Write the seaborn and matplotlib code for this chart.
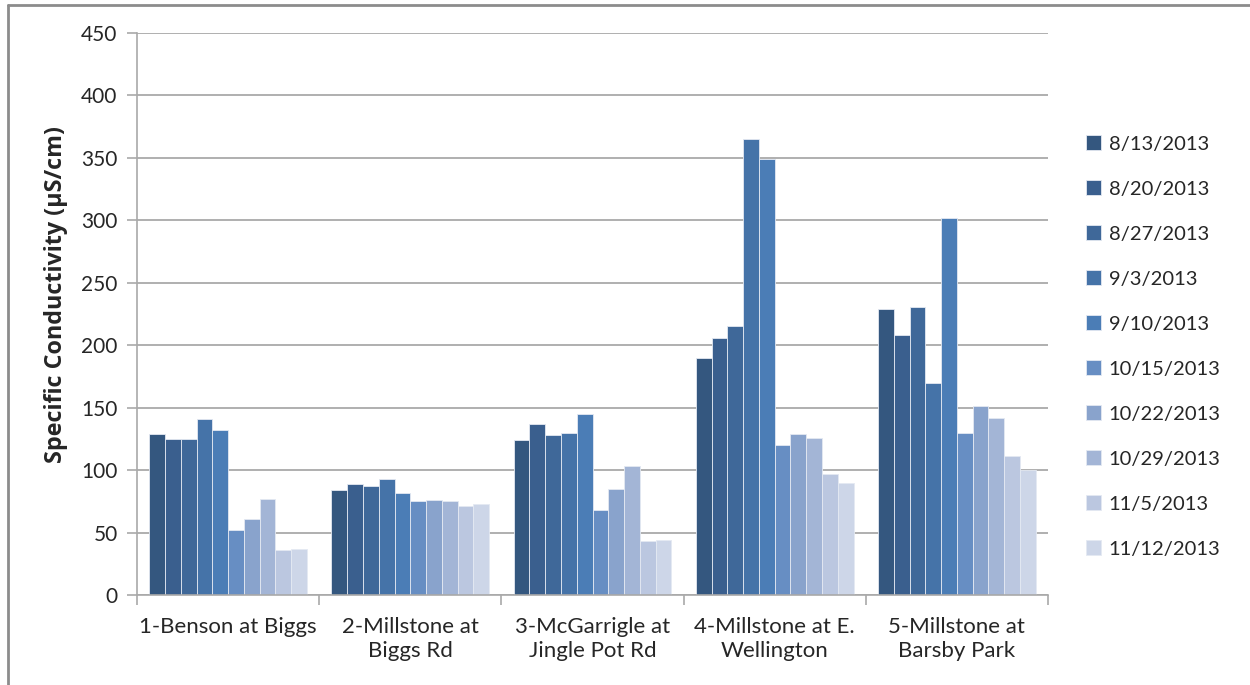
import numpy as np
import pandas as pd
import matplotlib
matplotlib.use("Agg")
import matplotlib.pyplot as plt
from matplotlib.lines import Line2D
import seaborn as sns

# ------------------------------------------
# Data
# ------------------------------------------
sites = ["1-Benson at Biggs",
         "2-Millstone at\nBiggs Rd",
         "3-McGarrigle at\nJingle Pot Rd",
         "4-Millstone at E.\nWellington",
         "5-Millstone at\nBarsby Park"]

dates = ["8/13/2013", "8/20/2013", "8/27/2013", "9/3/2013", "9/10/2013",
         "10/15/2013", "10/22/2013", "10/29/2013", "11/5/2013", "11/12/2013"]

benson_biggs = [129, 125, 125, 141, 132, 52, 61, 77, 36, 37]
millstone_biggs = [84, 89, 87, 93, 82, 75, 76, 75, 71, 73]
mcgarrigle = [124, 137, 128, 130, 145, 68, 85, 103, 43, 44]
millstone_wellington = [190, 206, 215, 365, 349, 120, 129, 126, 97, 90]
millstone_barsby = [229, 208, 231, 170, 302, 130, 151, 142, 111, 100]

colors = ["#34577f", "#3a5f8e", "#3f6899", "#4573a8", "#4b7db6",
          "#678ec3", "#89a3cc", "#a3b5d6", "#bbc7e0", "#cdd6e8"]

values = [benson_biggs, millstone_biggs, mcgarrigle,
          millstone_wellington, millstone_barsby]

rows = []
for site, vals in zip(sites, values):
    for d, v in zip(dates, vals):
        rows.append({"Site": site, "Date": d, "Conductivity": v})
df = pd.DataFrame(rows)

# ------------------------------------------
# Plot
# ------------------------------------------
sns.set_style("white")
plt.rcParams['font.family'] = ['Lato', 'DejaVu Sans']

fig = plt.figure(figsize=(12.5, 6.85), dpi=100)
ax = fig.add_axes([0.1096, 0.1314, 0.7288, 0.8204])

sns.barplot(data=df, x="Site", y="Conductivity", hue="Date",
            order=sites, hue_order=dates, palette=colors,
            width=0.865, gap=0, edgecolor="#e4e9f2", linewidth=0.6,
            saturation=1, errorbar=None, ax=ax)

ax.set_ylim(0, 450)
ax.set_xlim(-0.5, 4.5)
ax.set_yticks(np.arange(0, 451, 50))
ax.yaxis.grid(True, color="#a9a9a9", linewidth=1.3)
ax.set_axisbelow(True)

ax.set_xlabel("")
ax.set_ylabel("Specific Conductivity (µS/cm)", fontsize=16.8,
              fontweight="bold", family=["Open Sans", "DejaVu Sans"])
# label sits a little above the axis centre in the reference
ax.yaxis.set_label_coords(-0.076, 0.535)

ax.tick_params(axis="y", labelsize=15, length=7, width=1.2,
               color="#a9a9a9", left=True, pad=7)
ax.tick_params(axis="x", which="major", labelsize=16, length=0, pad=16)
for lab in ax.get_xticklabels():
    lab.set_linespacing(1.25)
ax.set_xticks(np.arange(-0.5, 5, 1), minor=True)
ax.tick_params(axis="x", which="minor", length=7, width=1.2,
               color="#a9a9a9", bottom=True)

for side in ["top", "right"]:
    ax.spines[side].set_visible(False)
for side in ["left", "bottom"]:
    ax.spines[side].set_color("#a9a9a9")
    ax.spines[side].set_linewidth(1.2)

handles, labels = ax.get_legend_handles_labels()
ax.legend(handles, labels, loc="upper left", bbox_to_anchor=(0.862, 0.814),
          bbox_transform=fig.transFigure, frameon=False, fontsize=14.5,
          handlelength=0.75, handleheight=0.75, handletextpad=0.4,
          labelspacing=1.37, borderaxespad=0)

# chart frame (partially visible, as in the cropped reference)
fig.add_artist(Line2D([8 / 1250, 1.0], [1 - 5 / 685, 1 - 5 / 685],
                      transform=fig.transFigure, color="#8c8c8c", lw=2))
fig.add_artist(Line2D([8 / 1250, 8 / 1250], [0.0, 1 - 5 / 685],
                      transform=fig.transFigure, color="#8c8c8c", lw=2))

fig.savefig("out.png", dpi=100)
